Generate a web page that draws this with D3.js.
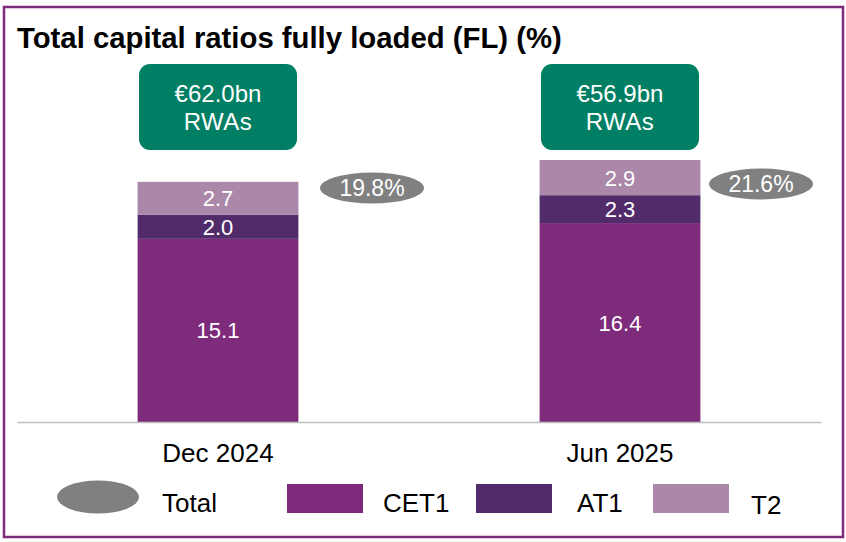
<!DOCTYPE html>
<html>
<head>
<meta charset="utf-8">
<script src="https://cdn.jsdelivr.net/npm/d3@7"></script>
<style>
    body { margin: 0; background: #fff; }
    svg text { font-family: "Liberation Sans", Arial, sans-serif; }
</style>
</head>
<body>
<svg id="chart" width="846" height="542"></svg>
<script>
// data
const categories = ["Dec 2024", "Jun 2025"];
const cet1 = [15.1, 16.4];
const at1 = [2.0, 2.3];
const t2 = [2.7, 2.9];
const totals = [19.8, 21.6];
const rwaLabels = ["€62.0bn", "€56.9bn"];
const seriesNames = ["CET1", "AT1", "T2"];

const colors = { CET1: "#7f2b7b", AT1: "#522b6b", T2: "#ab88aa", total: "#808080", rwa: "#007f64" };

const svg = d3.select("#chart");

// frame
svg.append("rect")
    .attr("x", 4).attr("y", 7)
    .attr("width", 839).attr("height", 530)
    .attr("fill", "none")
    .attr("stroke", "#7f2b7b")
    .attr("stroke-width", 2.5);

svg.append("text")
    .attr("x", 17).attr("y", 48)
    .attr("font-size", 29.3)
    .attr("font-weight", "bold")
    .attr("fill", "#000")
    .text("Total capital ratios fully loaded (FL) (%)");

const xScale = d3.scaleBand()
    .domain(categories)
    .range([17, 821])
    .padding(0);

const yScale = d3.scaleLinear()
    .domain([0, 21.6])
    .range([422, 160]);

const barW = xScale.bandwidth() * 0.4;
const cx = d => xScale(d) + xScale.bandwidth() / 2;

// stacked table
const table = categories.map((c, i) => ({ cat: c, CET1: cet1[i], AT1: at1[i], T2: t2[i] }));
const stacked = d3.stack().keys(seriesNames)(table);

const layers = svg.selectAll("g.layer")
    .data(stacked)
    .enter().append("g")
    .attr("class", "layer")
    .attr("fill", d => colors[d.key]);

layers.selectAll("rect")
    .data(d => d)
    .enter().append("rect")
    .attr("x", d => cx(d.data.cat) - barW / 2)
    .attr("y", d => yScale(d[1]))
    .attr("width", barW)
    .attr("height", d => yScale(d[0]) - yScale(d[1]));

layers.selectAll("text")
    .data(d => d)
    .enter().append("text")
    .attr("x", d => cx(d.data.cat))
    .attr("y", d => (yScale(d[0]) + yScale(d[1])) / 2 + 8)
    .attr("text-anchor", "middle")
    .attr("font-size", 22)
    .attr("fill", "#fff")
    .text(d => d3.format(".1f")(d[1] - d[0]));

// x axis
const xAxis = svg.append("g")
    .attr("transform", `translate(0, ${yScale(0)})`)
    .call(d3.axisBottom(xScale).tickSize(0).tickPadding(22));
xAxis.select(".domain").attr("stroke", "#c0c0c0").attr("stroke-width", 1.5);
xAxis.selectAll(".tick text")
    .attr("font-size", 26)
    .attr("fill", "#000")
    .attr("font-family", "Liberation Sans, Arial, sans-serif");

// RWA boxes
const rwa = svg.selectAll("g.rwa")
    .data(categories)
    .enter().append("g")
    .attr("class", "rwa");

rwa.append("rect")
    .attr("x", d => cx(d) - 79)
    .attr("y", 64)
    .attr("width", 158)
    .attr("height", 86)
    .attr("rx", 11)
    .attr("fill", colors.rwa);

rwa.append("text")
    .attr("x", d => cx(d))
    .attr("y", 102)
    .attr("text-anchor", "middle")
    .attr("font-size", 24)
    .attr("fill", "#fff")
    .text((d, i) => rwaLabels[i]);

rwa.append("text")
    .attr("x", d => cx(d))
    .attr("y", 130)
    .attr("text-anchor", "middle")
    .attr("font-size", 24)
    .attr("letter-spacing", 0.5)
    .attr("fill", "#fff")
    .text("RWAs");

// total bubbles
const tot = svg.selectAll("g.total")
    .data(categories)
    .enter().append("g")
    .attr("class", "total");

tot.append("ellipse")
    .attr("cx", (d, i) => cx(d) + (i === 0 ? 154 : 141))
    .attr("cy", (d, i) => i === 0 ? 188 : 184)
    .attr("rx", 52)
    .attr("ry", 15.5)
    .attr("fill", colors.total);

tot.append("text")
    .attr("x", (d, i) => cx(d) + (i === 0 ? 154 : 141))
    .attr("y", (d, i) => i === 0 ? 196 : 192)
    .attr("text-anchor", "middle")
    .attr("font-size", 23)
    .attr("fill", "#fff")
    .text((d, i) => totals[i].toFixed(1) + "%");

// legend
const legend = svg.append("g");
legend.append("ellipse")
    .attr("cx", 98).attr("cy", 497)
    .attr("rx", 41).attr("ry", 16.5)
    .attr("fill", colors.total);
legend.append("text")
    .attr("x", 162).attr("y", 512)
    .attr("font-size", 26)
    .text("Total");

const legendX = [287, 476, 653];
const legendTextX = [383, 577, 751];
seriesNames.forEach((s, i) => {
    legend.append("rect")
        .attr("x", legendX[i]).attr("y", 484)
        .attr("width", 76).attr("height", 29)
        .attr("fill", colors[s]);
    legend.append("text")
        .attr("x", legendTextX[i]).attr("y", s === "T2" ? 514 : 512)
        .attr("font-size", 26)
        .text(s);
});
</script>
</body>
</html>
